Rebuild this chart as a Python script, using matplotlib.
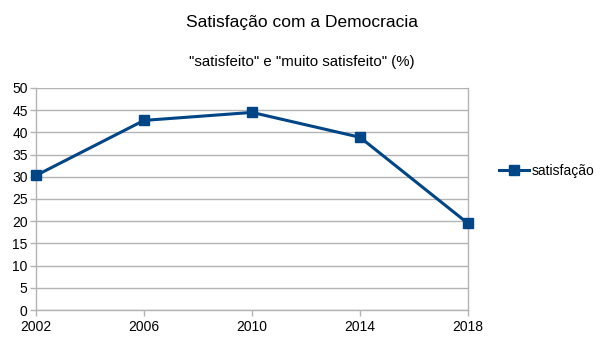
import matplotlib
matplotlib.use("Agg")
import matplotlib.pyplot as plt

years = ["2002", "2006", "2010", "2014", "2018"]
satisfacao = [30.3, 42.7, 44.5, 38.9, 19.5]
y_ticks = [0, 5, 10, 15, 20, 25, 30, 35, 40, 45, 50]

plt.rcParams['font.family'] = ['Liberation Sans', 'DejaVu Sans']

fig = plt.figure(figsize=(6.05, 3.4), dpi=100)
ax = fig.add_axes([36/605, 30/340, 432/605, 222/340])

x = list(range(len(years)))
ax.plot(x, satisfacao, color="#004586", linewidth=2.2, marker="s", markersize=7.5,
        label="satisfação", clip_on=False, zorder=5)

ax.set_xlim(0, len(years) - 1)
ax.set_ylim(0, 50)
ax.set_xticks(x)
ax.set_xticklabels(years)
ax.set_yticks(y_ticks)
ax.grid(axis="y", color="#b3b3b3", linewidth=1)
ax.set_axisbelow(True)
for s in ["top"]:
    ax.spines[s].set_visible(False)
for s in ["left", "right", "bottom"]:
    ax.spines[s].set_color("#b3b3b3")
    ax.spines[s].set_linewidth(1)
ax.tick_params(axis="both", colors="#b3b3b3", labelcolor="black", labelsize=10, length=4, width=1)
ax.tick_params(axis="x", pad=3)
ax.tick_params(axis="y", pad=2)

fig.text(302/605, 1 - 22/340, "Satisfação com a Democracia", ha="center", va="center", fontsize=12.5)
fig.text(302/605, 1 - 62/340, "\"satisfeito\" e \"muito satisfeito\" (%)", ha="center", va="center", fontsize=10.8)

fig.legend(loc="center left", bbox_to_anchor=(493/605, 1 - 171/340), frameon=False,
           fontsize=10, handlelength=2.2, handletextpad=0.2, borderaxespad=0)

fig.savefig("out.png", dpi=100)
